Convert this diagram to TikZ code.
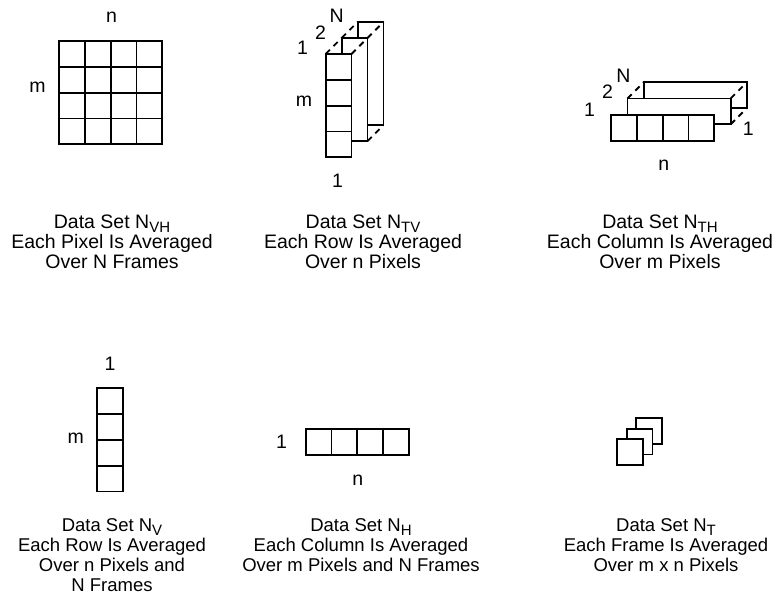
\documentclass[tikz,border=0pt]{standalone}
\usepackage{fontspec}
\setmainfont{Liberation Sans}
\newcommand\subs[1]{\raisebox{-4pt}{\fontsize{15}{15}\selectfont #1}}

\begin{document}
\begin{tikzpicture}[x=1pt,y=-1pt,
    lbl/.style={inner sep=0pt,font=\fontsize{19.5}{19.5}\selectfont},
    captxt/.style={inner sep=0pt,align=center,anchor=base,font=\fontsize{19.5}{20}\selectfont},
    captwo/.style={captxt,font=\fontsize{18.5}{20}\selectfont},
    cell/.style={line width=1.8pt,fill=white},
    deep/.style={line width=1.8pt,dash pattern=on 6pt off 5pt}]
  \useasboundingbox (0,0) rectangle (777,600);
  \def\c{25.8}
  % N_VH: m x n grid
  \foreach \i in {0,...,3}
    \foreach \j in {0,...,3}
      \draw[cell] (59+\i*\c,41+\j*\c) rectangle ++(\c,\c);
  \node[lbl] (nVH) at (111.5,17.5) {n};
  \node[lbl] (mVH) at (37.5,87) {m};
  % N_TV: N frames of one column, back to front
  \draw[cell] (357.7,22) rectangle ++(\c,4*\c);
  \draw[cell] (341.7,38) rectangle ++(\c,4*\c);
  \foreach \j in {0,...,3}
    \draw[cell] (325.7,54+\j*\c) rectangle ++(\c,\c);
  \draw[deep] (325.7,54)--(341.7,38);
  \draw[deep] (341.7,38)--(357.7,22);
  \draw[deep] (351.5,54)--(367.5,38);
  \draw[deep] (367.5,38)--(383.5,22);
  \draw[deep] (367.5,141.2)--(383.5,125.2);
  \node[lbl] (oneTV) at (302.5,47.5) {1};
  \node[lbl] (twoTV) at (320.5,32.5) {2};
  \node[lbl] (NTV) at (336.7,15.5) {N};
  \node[lbl] (mTV) at (304,100.8) {m};
  \node[lbl] (botTV) at (337.5,181) {1};
  % N_TH: N frames of one row, back to front
  \draw[cell] (644,82) rectangle ++(4*\c,\c);
  \draw[cell] (627.5,98.5) rectangle ++(4*\c,\c);
  \foreach \i in {0,...,3}
    \draw[cell] (611+\i*\c,115) rectangle ++(\c,\c);
  \draw[deep] (627.5,98.5)--(644,82);
  \draw[deep] (730.7,98.5)--(747.2,82);
  \draw[deep] (730.7,124.3)--(747.2,107.8);
  \node[lbl] (oneTH) at (589.5,110) {1};
  \node[lbl] (twoTH) at (607.5,92) {2};
  \node[lbl] (NTH) at (623.3,75.5) {N};
  \node[lbl] (rgtTH) at (748.3,128.3) {1};
  \node[lbl] (nTH) at (663.7,165) {n};
  % N_V: one column
  \foreach \j in {0,...,3}
    \draw[cell] (97.3,388.3+\j*\c) rectangle ++(\c,\c);
  \node[lbl] (oneV) at (110,363.3) {1};
  \node[lbl] (mV) at (75.8,438.7) {m};
  % N_H: one row
  \foreach \i in {0,...,3}
    \draw[cell] (305.7+\i*\c,429) rectangle ++(\c,\c);
  \node[lbl] (oneH) at (281.5,441.7) {1};
  \node[lbl] (nH) at (357.7,480.5) {n};
  % N_T: stacked frames
  \draw[cell] (636,418.3) rectangle ++(\c,\c);
  \draw[cell] (626.7,428.7) rectangle ++(\c,\c);
  \draw[cell] (617.3,439.3) rectangle ++(\c,\c);
  % captions (anchored at the baseline of the last line)
  \node[captxt] (capVH) at (112,268) {Data Set N\subs{VH}\\Each Pixel Is Averaged\\Over N Frames};
  \node[captxt] (capTV) at (363,268) {Data Set N\subs{TV}\\Each Row Is Averaged\\Over n Pixels};
  \node[captxt] (capTH) at (660,268) {Data Set N\subs{TH}\\Each Column Is Averaged\\Over m Pixels};
  \node[captwo] (capV) at (112,591.7) {Data Set N\subs{V}\\Each Row Is Averaged\\Over n Pixels and\\N Frames};
  \node[captwo] (capH) at (361,571.7) {Data Set N\subs{H}\\Each Column Is Averaged\\Over m Pixels and N Frames};
  \node[captwo] (capT) at (666,571.7) {Data Set N\subs{T}\\Each Frame Is Averaged\\Over m x n Pixels};
\end{tikzpicture}
\end{document}
